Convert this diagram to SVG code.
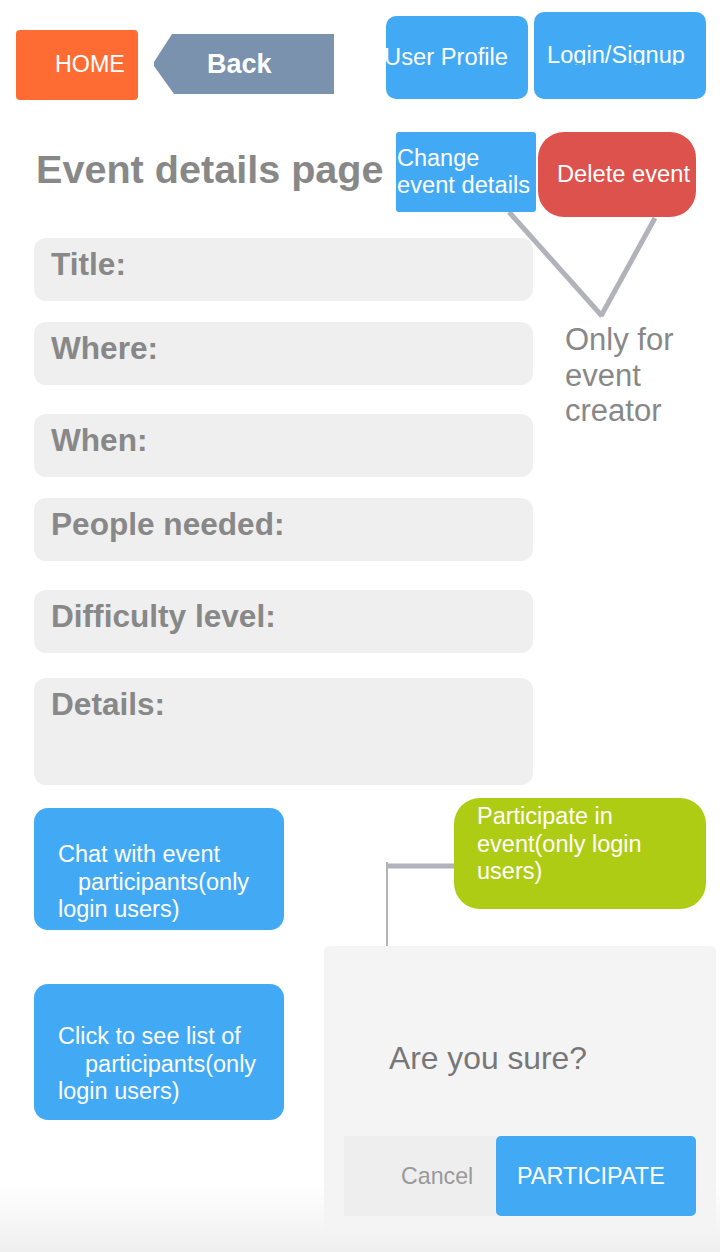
<svg xmlns="http://www.w3.org/2000/svg" width="720" height="1252" viewBox="0 0 720 1252">
<defs>
<style>
text{font-family:"Liberation Sans",Arial,Helvetica,sans-serif}
.w{fill:#ffffff;font-size:23.5px}
.lbl{fill:#888888;font-size:31.6px;font-weight:bold}
.field{fill:#efefef}
.blue{fill:#42aaf4}
.conn{stroke:#b2b2ba;fill:none;stroke-linecap:butt}
</style>
<linearGradient id="fade" x1="0" y1="0" x2="0" y2="1">
<stop offset="0" stop-color="#e8e8e8" stop-opacity="0"/>
<stop offset="1" stop-color="#e8e8e8" stop-opacity="0.7"/>
</linearGradient>
<clipPath id="cpUser"><rect x="386" y="16" width="142" height="83" rx="10"/></clipPath>
<clipPath id="cpLogin"><rect x="534" y="12" width="172" height="53"/></clipPath>
</defs>
<rect x="0" y="0" width="720" height="1252" fill="#ffffff"/>

<g id="connectors">
<line class="conn" x1="509" y1="212" x2="602" y2="316" stroke-width="5"/>
<line class="conn" x1="655" y1="218" x2="601" y2="316" stroke-width="5"/>
<line class="conn" x1="386" y1="866" x2="455" y2="866" stroke-width="5"/>
<line class="conn" x1="387" y1="862" x2="387" y2="947" stroke-width="2"/>
</g>

<g id="home">
<rect x="16" y="30" width="122" height="70" rx="4" fill="#ff6c33"/>
<text x="55" y="72" class="w" style="font-size:23.3px">HOME</text>
</g>
<g id="back">
<polygon points="172,34 334,34 334,94 174,94 154,66 154,62" fill="#7b92ae"/>
<text x="207" y="73" fill="#ffffff" style="font-size:27px;font-weight:bold">Back</text>
</g>
<g id="user-profile">
<rect class="blue" x="386" y="16" width="142" height="83" rx="10"/>
<text x="384" y="65" class="w" clip-path="url(#cpUser)" textLength="124" lengthAdjust="spacingAndGlyphs">User Profile</text>
</g>
<g id="login-signup">
<rect class="blue" x="534" y="12" width="172" height="87" rx="10"/>
<text x="547" y="63" class="w" clip-path="url(#cpLogin)" textLength="138" lengthAdjust="spacingAndGlyphs">Login/Signup</text>
</g>

<g id="page-title">
<text x="36" y="183" fill="#888888" style="font-size:39.6px;font-weight:bold">Event details page</text>
</g>
<g id="change-event">
<rect class="blue" x="396" y="132" width="140" height="80" rx="3"/>
<text x="397" y="166" class="w">Change</text>
<text x="397" y="193" class="w" textLength="133" lengthAdjust="spacingAndGlyphs">event details</text>
</g>
<g id="delete-event">
<rect x="538" y="132" width="158" height="85" rx="26" fill="#de524d"/>
<text x="557" y="182" class="w" textLength="133" lengthAdjust="spacingAndGlyphs">Delete event</text>
</g>
<g id="only-creator">
<text x="565" y="350" fill="#888888" style="font-size:31px">Only for</text>
<text x="565" y="386" fill="#888888" style="font-size:31px">event</text>
<text x="565" y="421" fill="#888888" style="font-size:31px">creator</text>
</g>

<g id="field-title"><rect class="field" x="34" y="238" width="499" height="63" rx="12"/><text x="51" y="275" class="lbl">Title:</text></g>
<g id="field-where"><rect class="field" x="34" y="322" width="499" height="63" rx="12"/><text x="51" y="359" class="lbl">Where:</text></g>
<g id="field-when"><rect class="field" x="34" y="414" width="499" height="63" rx="12"/><text x="51" y="451" class="lbl">When:</text></g>
<g id="field-people"><rect class="field" x="34" y="498" width="499" height="63" rx="12"/><text x="51" y="535" class="lbl">People needed:</text></g>
<g id="field-difficulty"><rect class="field" x="34" y="590" width="499" height="63" rx="12"/><text x="51" y="627" class="lbl">Difficulty level:</text></g>
<g id="field-details"><rect class="field" x="34" y="678" width="499" height="107" rx="12"/><text x="51" y="715" class="lbl">Details:</text></g>

<g id="chat">
<rect class="blue" x="34" y="808" width="250" height="122" rx="14"/>
<text x="58" y="862" class="w">Chat with event</text>
<text x="78" y="890" class="w">participants(only</text>
<text x="58" y="917" class="w">login users)</text>
</g>
<g id="participants-list">
<rect class="blue" x="34" y="984" width="250" height="136" rx="14"/>
<text x="58" y="1044" class="w">Click to see list of</text>
<text x="85" y="1072" class="w">participants(only</text>
<text x="58" y="1099" class="w">login users)</text>
</g>
<g id="participate">
<rect x="454" y="798" width="252" height="111" rx="26" fill="#afcc14"/>
<text x="477" y="824" class="w">Participate in</text>
<text x="477" y="852" class="w">event(only login</text>
<text x="477" y="879" class="w">users)</text>
</g>

<rect x="0" y="1185" width="720" height="67" fill="url(#fade)"/>

<g id="dialog">
<rect x="324" y="946" width="392" height="289" rx="6" fill="#f4f4f4"/>
<text x="389" y="1069" fill="#777777" style="font-size:31.8px">Are you sure?</text>
<rect x="344" y="1136" width="160" height="80" fill="#eeeeee"/>
<text x="401" y="1184" fill="#999999" style="font-size:23.2px">Cancel</text>
<rect class="blue" x="496" y="1136" width="200" height="80" rx="5"/>
<text x="517" y="1184" class="w" style="font-size:23.4px">PARTICIPATE</text>
</g>
</svg>
